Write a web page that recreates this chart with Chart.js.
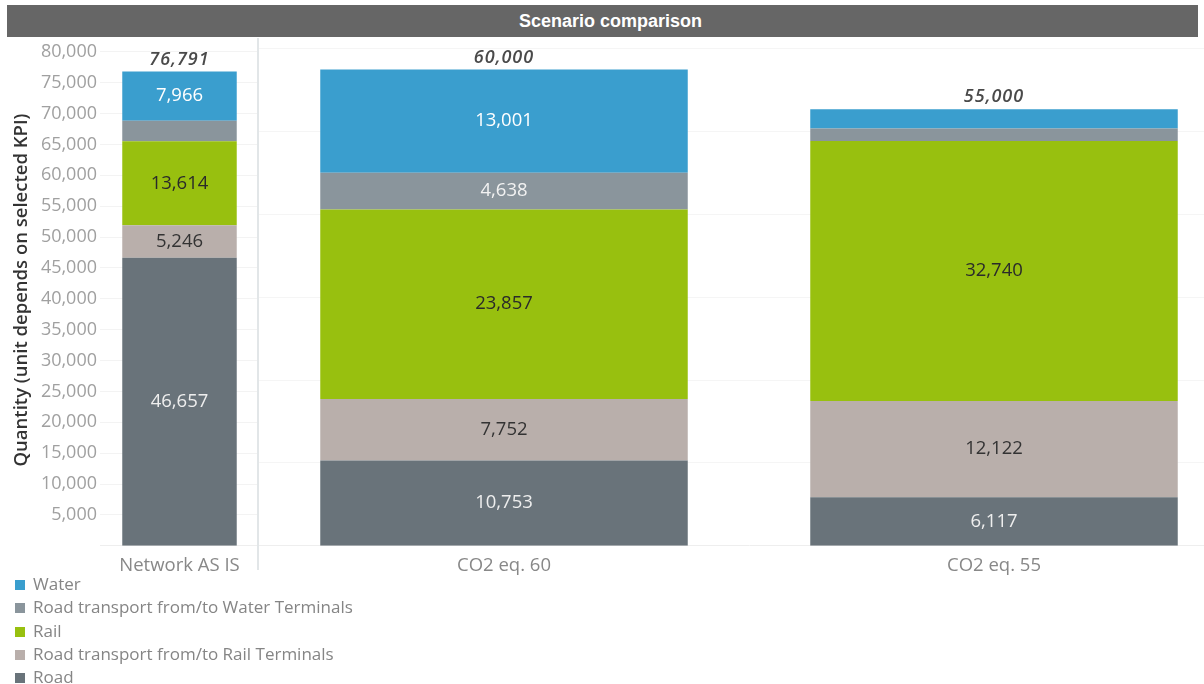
<!DOCTYPE html>
<html>
<head>
<meta charset="utf-8">
<script src="https://cdn.jsdelivr.net/npm/chart.js@4.4.1/dist/chart.umd.min.js"></script>
<style>
  html, body { margin: 0; padding: 0; background: #fff; }
  body { width: 1204px; height: 684px; position: relative; overflow: hidden; font-family: "Open Sans", sans-serif; }
  #title { position: absolute; left: 7px; top: 5px; width: 1191px; height: 32px; background: #666666;
           color: #fff; font: bold 18px "Liberation Sans", Arial, sans-serif; line-height: 32px; text-align: center; text-indent: 16px; }
  #leftPane { position: absolute; left: 0; top: 38px; width: 259px; height: 540px; }
  #rightPane { position: absolute; left: 259px; top: 38px; width: 980px; height: 540px; }
  #divider { position: absolute; left: 257px; top: 38px; width: 2px; height: 532px; background: #e2e6e8; }
  #legend { position: absolute; left: 15px; top: 572px; }
  .item { height: 23.3px; line-height: 23.3px; font-size: 17px; color: #858585; white-space: nowrap; }
  .sw { display: inline-block; width: 10px; height: 10px; margin-right: 8px; vertical-align: 0px; }
</style>
</head>
<body>
<div id="title">Scenario comparison</div>
<div id="leftPane"><canvas id="leftChart"></canvas></div>
<div id="rightPane"><canvas id="rightChart"></canvas></div>
<div id="divider"></div>
<div id="legend"></div>
<script>
// Scenarios and stacked transport components (bottom to top)
const scenarios = ['Network AS IS', 'CO2 eq. 60', 'CO2 eq. 55'];
const road = [46657, 10753, 6117];
const roadRailTerminals = [5246, 7752, 12122];
const rail = [13614, 23857, 32740];
const roadWaterTerminals = [3308, 4638, 1571];
const water = [7966, 13001, 2450];
const totals = [76791, 60000, 55000];

const seriesNames = ['Road', 'Road transport from/to Rail Terminals', 'Rail',
                     'Road transport from/to Water Terminals', 'Water'];
const seriesValues = [road, roadRailTerminals, rail, roadWaterTerminals, water];
const seriesColors = ['#69737a', '#b9afab', '#98c00f', '#8a959c', '#3a9ece'];
const labelColors = ['#eeeeee', '#333333', '#2a2a2a', '#f2f2f2', '#ffffff'];

const leftAxisMax = 80000, leftAxisStep = 5000;
const rightAxisMax = 62600, rightAxisStep = 10000;

const fmt = v => v.toLocaleString('en-US');
const TICK_FONT = { family: 'Open Sans', size: 18 };

function makeDatasets(from, to) {
  return seriesNames.map((name, i) => ({
    label: name,
    data: seriesValues[i].slice(from, to),
    backgroundColor: seriesColors[i],
    borderWidth: 0,
    stack: 'total'
  }));
}

// Segment values inside the bars and totals above each stack
const barLabels = {
  id: 'barLabels',
  afterDatasetsDraw(chart, args, opts) {
    const ctx = chart.ctx;
    ctx.save();
    ctx.textAlign = 'center';
    ctx.textBaseline = 'middle';
    chart.data.datasets.forEach((ds, di) => {
      const meta = chart.getDatasetMeta(di);
      meta.data.forEach((bar, j) => {
        const h = bar.base - bar.y;
        if (h < 26) return;
        ctx.font = '18.5px "Open Sans"';
        ctx.fillStyle = labelColors[di];
        ctx.fillText(fmt(ds.data[j]), bar.x, (bar.y + bar.base) / 2);
      });
    });
    const topMeta = chart.getDatasetMeta(chart.data.datasets.length - 1);
    topMeta.data.forEach((bar, j) => {
      ctx.font = 'italic 600 18px "Open Sans"';
      ctx.letterSpacing = '1px';
      ctx.fillStyle = '#4a4a4a';
      ctx.fillText(fmt(opts.totals[j]), bar.x, bar.y - 12);
    });
    ctx.restore();
  }
};

// Rotated axis title, centred a little above the plot middle
const axisTitle = {
  id: 'axisTitle',
  afterDraw(chart) {
    const ctx = chart.ctx;
    ctx.save();
    ctx.translate(22, 252);
    ctx.rotate(-Math.PI / 2);
    ctx.textAlign = 'center';
    ctx.textBaseline = 'middle';
    ctx.font = '600 18.5px "Open Sans"';
    ctx.fillStyle = '#333';
    ctx.fillText('Quantity (unit depends on selected KPI)', 0, 0);
    ctx.restore();
  }
};

const commonX = {
  grid: { display: false },
  border: { display: true, color: '#eeeeee' },
  ticks: { font: { family: 'Open Sans', size: 18.5 }, color: '#888', padding: 1 }
};

new Chart(document.getElementById('leftChart'), {
  type: 'bar',
  data: { labels: scenarios.slice(0, 1), datasets: makeDatasets(0, 1) },
  plugins: [barLabels, axisTitle],
  options: {
    responsive: true, maintainAspectRatio: false, animation: false,
    layout: { padding: { top: 4, right: 0, bottom: 0, left: 0 } },
    datasets: { bar: { barPercentage: 0.72, categoryPercentage: 1 } },
    plugins: { legend: { display: false }, tooltip: { enabled: false }, barLabels: { totals: totals.slice(0, 1) } },
    scales: {
      x: { ...commonX, stacked: true },
      y: {
        stacked: true, min: 0, max: leftAxisMax,
        border: { display: false },
        grid: { color: '#f3f3f3', drawTicks: false },
        ticks: { stepSize: leftAxisStep, font: TICK_FONT, color: '#a0a0a0', padding: 3,
                 callback: v => v === 0 ? null : fmt(v) },
        afterFit: s => { s.width = 100; }
      }
    }
  }
});

new Chart(document.getElementById('rightChart'), {
  type: 'bar',
  data: { labels: scenarios.slice(1), datasets: makeDatasets(1) },
  plugins: [barLabels],
  options: {
    responsive: true, maintainAspectRatio: false, animation: false,
    layout: { padding: { top: 4, right: 0, bottom: 0, left: 0 } },
    datasets: { bar: { barPercentage: 0.75, categoryPercentage: 1 } },
    plugins: { legend: { display: false }, tooltip: { enabled: false }, barLabels: { totals: totals.slice(1) } },
    scales: {
      x: { ...commonX, stacked: true },
      y: {
        stacked: true, min: 0, max: rightAxisMax,
        border: { display: false },
        grid: { color: '#f5f5f5', drawTicks: false },
        ticks: { stepSize: rightAxisStep, includeBounds: false, font: TICK_FONT, color: 'rgba(0,0,0,0)', padding: 0,
                 callback: v => v === 0 ? null : fmt(v) },
        afterFit: s => { s.width = 0; }
      }
    }
  }
});

// Legend, top entry is the top of the stack
const legend = document.getElementById('legend');
for (let i = seriesNames.length - 1; i >= 0; i--) {
  const row = document.createElement('div');
  row.className = 'item';
  row.innerHTML = '<span class="sw" style="background:' + seriesColors[i] + '"></span>' + seriesNames[i];
  legend.appendChild(row);
}
</script>
</body>
</html>
